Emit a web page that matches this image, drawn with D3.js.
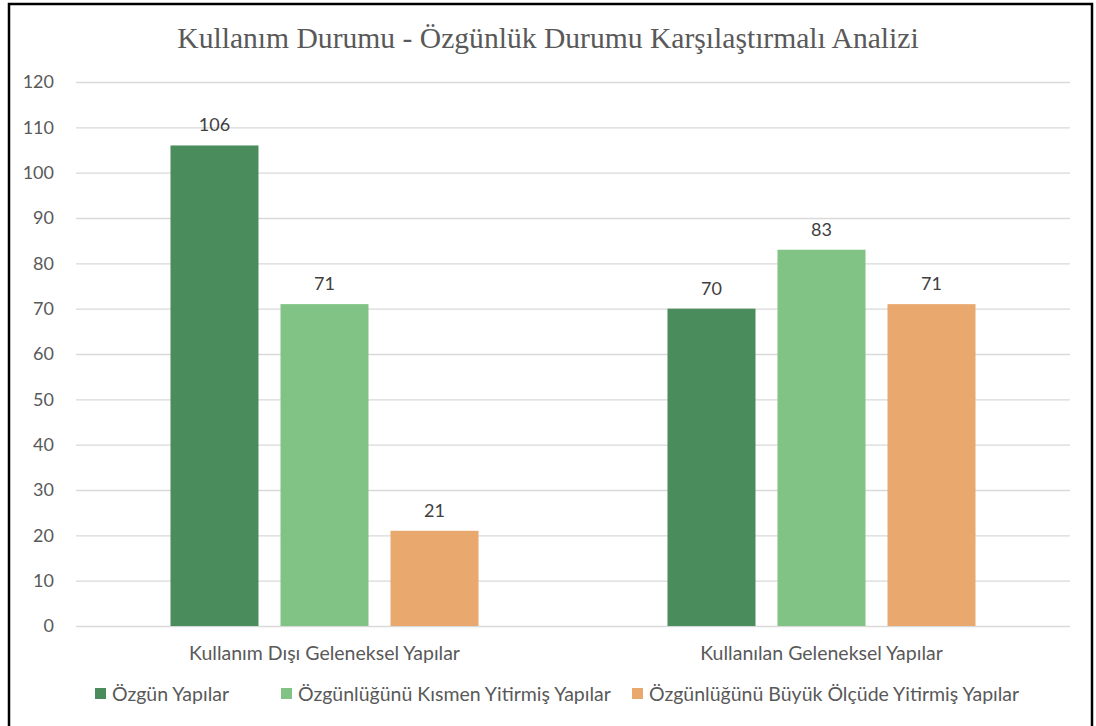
<!DOCTYPE html>
<html>
<head>
<meta charset="utf-8">
<script src="https://cdn.jsdelivr.net/npm/d3@7"></script>
<style>
  html, body { margin: 0; padding: 0; background: #fff; }
  svg { display: block; }
</style>
</head>
<body>
<svg id="chart" width="1096" height="726"></svg>
<script>
// Chart data
const categories = ["Kullanım Dışı Geleneksel Yapılar", "Kullanılan Geleneksel Yapılar"];
const seriesNames = ["Özgün Yapılar", "Özgünlüğünü Kısmen Yitirmiş Yapılar", "Özgünlüğünü Büyük Ölçüde Yitirmiş Yapılar"];
const ozgun = [106, 70];
const kismen = [71, 83];
const buyuk = [21, 71];
const seriesColors = ["#4a8c5c", "#80c384", "#e9a96e"];
const yTicks = [0, 10, 20, 30, 40, 50, 60, 70, 80, 90, 100, 110, 120];
const titleText = "Kullanım Durumu - Özgünlük Durumu Karşılaştırmalı Analizi";

const seriesValues = [ozgun, kismen, buyuk];

const svg = d3.select("#chart");
const plot = { left: 76, right: 1070, top: 82, bottom: 626 };
const textColor = "#595959";
const sans = "Lato, 'Open Sans', sans-serif";

// Outer frame
svg.append("rect")
  .attr("x", 9).attr("y", 4)
  .attr("width", 1083).attr("height", 740)
  .attr("fill", "#fff")
  .attr("stroke", "#000").attr("stroke-width", 2.5);

// Title
svg.append("text")
  .attr("x", 548).attr("y", 48)
  .attr("text-anchor", "middle")
  .attr("font-family", "'Liberation Serif', 'Times New Roman', serif")
  .attr("font-size", 29.6)
  .attr("fill", textColor)
  .text(titleText);

// Scales
const y = d3.scaleLinear().domain([0, 120]).range([plot.bottom, plot.top]);
const x0 = d3.scaleBand().domain(categories).range([plot.left, plot.right]).padding(0);
const x1 = d3.scaleBand().domain(seriesNames).range([0, x0.bandwidth()])
  .paddingInner(0.2).paddingOuter(0.859);

// Gridlines and y tick labels
const yAxis = d3.axisLeft(y).tickValues(yTicks)
  .tickSize(-(plot.right - plot.left)).tickPadding(22).tickFormat(d3.format("d"));
const gy = svg.append("g").attr("transform", `translate(${plot.left},0)`).call(yAxis);
gy.select(".domain").remove();
gy.selectAll(".tick line").attr("stroke", "#d9d9d9").attr("stroke-width", 1.3);
gy.selectAll(".tick text")
  .attr("font-family", sans).attr("font-size", 18).attr("fill", textColor);

// Category axis labels
const xAxis = d3.axisBottom(x0).tickSize(0).tickPadding(20);
const gx = svg.append("g").attr("transform", `translate(0,${plot.bottom})`).call(xAxis);
gx.select(".domain").remove();
gx.selectAll(".tick text")
  .attr("font-family", sans).attr("font-size", 19.5).attr("fill", textColor);

// Bars
const rows = [];
categories.forEach((c, ci) => {
  seriesNames.forEach((s, si) => rows.push({ cat: c, ser: s, si, value: seriesValues[si][ci] }));
});

svg.append("g").selectAll("rect").data(rows).join("rect")
  .attr("x", d => x0(d.cat) + x1(d.ser))
  .attr("y", d => y(d.value))
  .attr("width", x1.bandwidth())
  .attr("height", d => y(0) - y(d.value))
  .attr("fill", d => seriesColors[d.si]);

// Value labels
svg.append("g").selectAll("text").data(rows).join("text")
  .attr("x", d => x0(d.cat) + x1(d.ser) + x1.bandwidth() / 2)
  .attr("y", d => y(d.value) - 14)
  .attr("text-anchor", "middle")
  .attr("font-family", sans).attr("font-size", 18).attr("fill", "#404040")
  .text(d => d.value);

// Legend
const legendX = [95, 281, 632];
const lg = svg.append("g").selectAll("g").data(seriesNames).join("g")
  .attr("transform", (d, i) => `translate(${legendX[i]},694)`);
lg.append("rect").attr("x", 0).attr("y", -6).attr("width", 11).attr("height", 11)
  .attr("fill", (d, i) => seriesColors[i]);
lg.append("text").attr("x", 17).attr("y", 0).attr("dy", "0.35em")
  .attr("font-family", sans).attr("font-size", 19.5).attr("fill", textColor)
  .text(d => d);
</script>
</body>
</html>
